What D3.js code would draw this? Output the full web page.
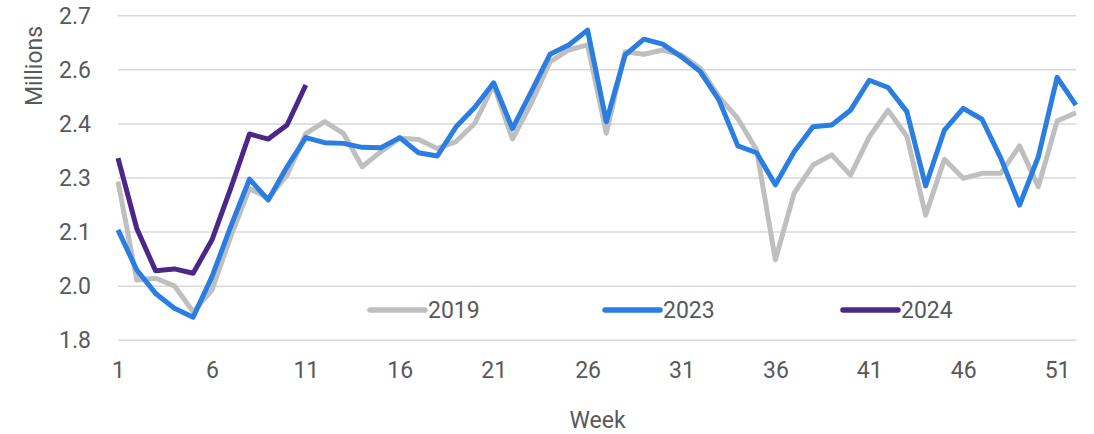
<!DOCTYPE html>
<html>
<head>
<meta charset="utf-8">
<script src="https://cdn.jsdelivr.net/npm/d3@7"></script>
<style>
	body{margin:0;background:#fff;}
	text{font-family:Roboto, "Liberation Sans", sans-serif;fill:#595959;}
</style>
</head>
<body>
<div id="plot1"></div>
<script>
//weekly values, millions
var weeks = d3.range(1,53);
var seriesNames = ['2019','2023','2024'];
var seriesColors = ['#bfbfbf','#2a7de1','#4b2887'];

var values2019 = [2.240,1.967,1.972,1.951,1.879,1.939,2.087,2.221,2.194,2.258,
	2.373,2.406,2.374,2.281,2.323,2.360,2.357,2.332,2.351,2.402,
	2.508,2.358,2.457,2.572,2.605,2.619,2.374,2.600,2.593,2.605,
	2.591,2.554,2.475,2.415,2.328,2.023,2.208,2.286,2.314,2.258,
	2.364,2.438,2.366,2.147,2.302,2.249,2.263,2.263,2.339,2.226,
	2.408,2.431];
var values2023 = [2.106,1.995,1.930,1.889,1.864,1.976,2.115,2.247,2.189,2.281,
	2.362,2.348,2.346,2.335,2.334,2.362,2.320,2.311,2.392,2.446,
	2.514,2.387,2.489,2.593,2.619,2.660,2.406,2.591,2.635,2.621,
	2.586,2.545,2.466,2.339,2.320,2.231,2.323,2.392,2.397,2.438,
	2.521,2.501,2.434,2.228,2.383,2.443,2.413,2.305,2.175,2.309,
	2.529,2.452];
var values2024 = [2.305,2.110,1.993,1.998,1.986,2.078,2.221,2.372,2.358,2.397,2.508];

var yTicks = [1.8,1.95,2.1,2.25,2.4,2.55,2.7],
	yTickLabels = ['1.8','2.0','2.1','2.3','2.4','2.6','2.7'];
var xTicks = [1,6,11,16,21,26,31,36,41,46,51];

var W = 1094, H = 434;
var m = {t:15.7,r:17.7,b:93.7,l:118},
	w = W - m.l - m.r,
	h = H - m.t - m.b;

var svg = d3.select('#plot1').append('svg')
	.attr('width',W).attr('height',H);
var plot = svg.append('g')
	.attr('transform','translate('+m.l+','+m.t+')');

var scaleX = d3.scaleLinear().domain([1,52]).range([0,w - 0.4]),
	scaleY = d3.scaleLinear().domain([1.8,2.7]).range([h,0]);

//gridlines
plot.selectAll('.grid')
	.data(yTicks)
	.enter().append('line').attr('class','grid')
	.attr('x1',0).attr('x2',w)
	.attr('y1',function(d){return scaleY(d)})
	.attr('y2',function(d){return scaleY(d)})
	.attr('stroke','#d9d9d9')
	.attr('stroke-width',1.5);

//y axis labels
var yAxis = d3.axisLeft(scaleY)
	.tickValues(yTicks)
	.tickSize(0)
	.tickPadding(27)
	.tickFormat(function(d,i){return yTickLabels[i]});
plot.append('g').call(yAxis)
	.call(function(g){g.select('.domain').remove()})
	.selectAll('text')
	.attr('font-size',23)
	.attr('font-family','Roboto, sans-serif')
	.attr('fill','#595959');

//x axis labels
var xAxis = d3.axisBottom(scaleX)
	.tickValues(xTicks)
	.tickSize(0)
	.tickPadding(21)
	.tickFormat(d3.format('d'));
plot.append('g').attr('transform','translate(0,'+h+')').call(xAxis)
	.call(function(g){g.select('.domain').remove()})
	.selectAll('text')
	.attr('font-size',23)
	.attr('font-family','Roboto, sans-serif')
	.attr('fill','#595959');

//lines
var line = d3.line()
	.x(function(d,i){return scaleX(weeks[i])})
	.y(function(d){return scaleY(d)});

var allSeries = [values2019,values2023,values2024];
plot.selectAll('.series')
	.data(allSeries)
	.enter().append('path').attr('class','series')
	.attr('d',line)
	.attr('fill','none')
	.attr('stroke',function(d,i){return seriesColors[i]})
	.attr('stroke-width',5)
	.attr('stroke-linejoin','round');

//legend
var legendX = [370,605,843];
var legend = svg.selectAll('.legend')
	.data(seriesNames)
	.enter().append('g').attr('class','legend')
	.attr('transform',function(d,i){return 'translate('+legendX[i]+',310)'});
legend.append('line')
	.attr('x1',0).attr('x2',55)
	.attr('stroke',function(d,i){return seriesColors[i]})
	.attr('stroke-width',5.5)
	.attr('stroke-linecap','round');
legend.append('text')
	.attr('x',58).attr('y',8.3)
	.attr('font-size',23)
	.text(function(d){return d});

//axis titles
svg.append('text')
	.attr('x',597.5).attr('y',428)
	.attr('text-anchor','middle')
	.attr('font-size',23)
	.text('Week');
svg.append('text')
	.attr('transform','translate(41.5,66) rotate(-90)')
	.attr('text-anchor','middle')
	.attr('font-size',23)
	.text('Millions');
</script>
</body>
</html>
